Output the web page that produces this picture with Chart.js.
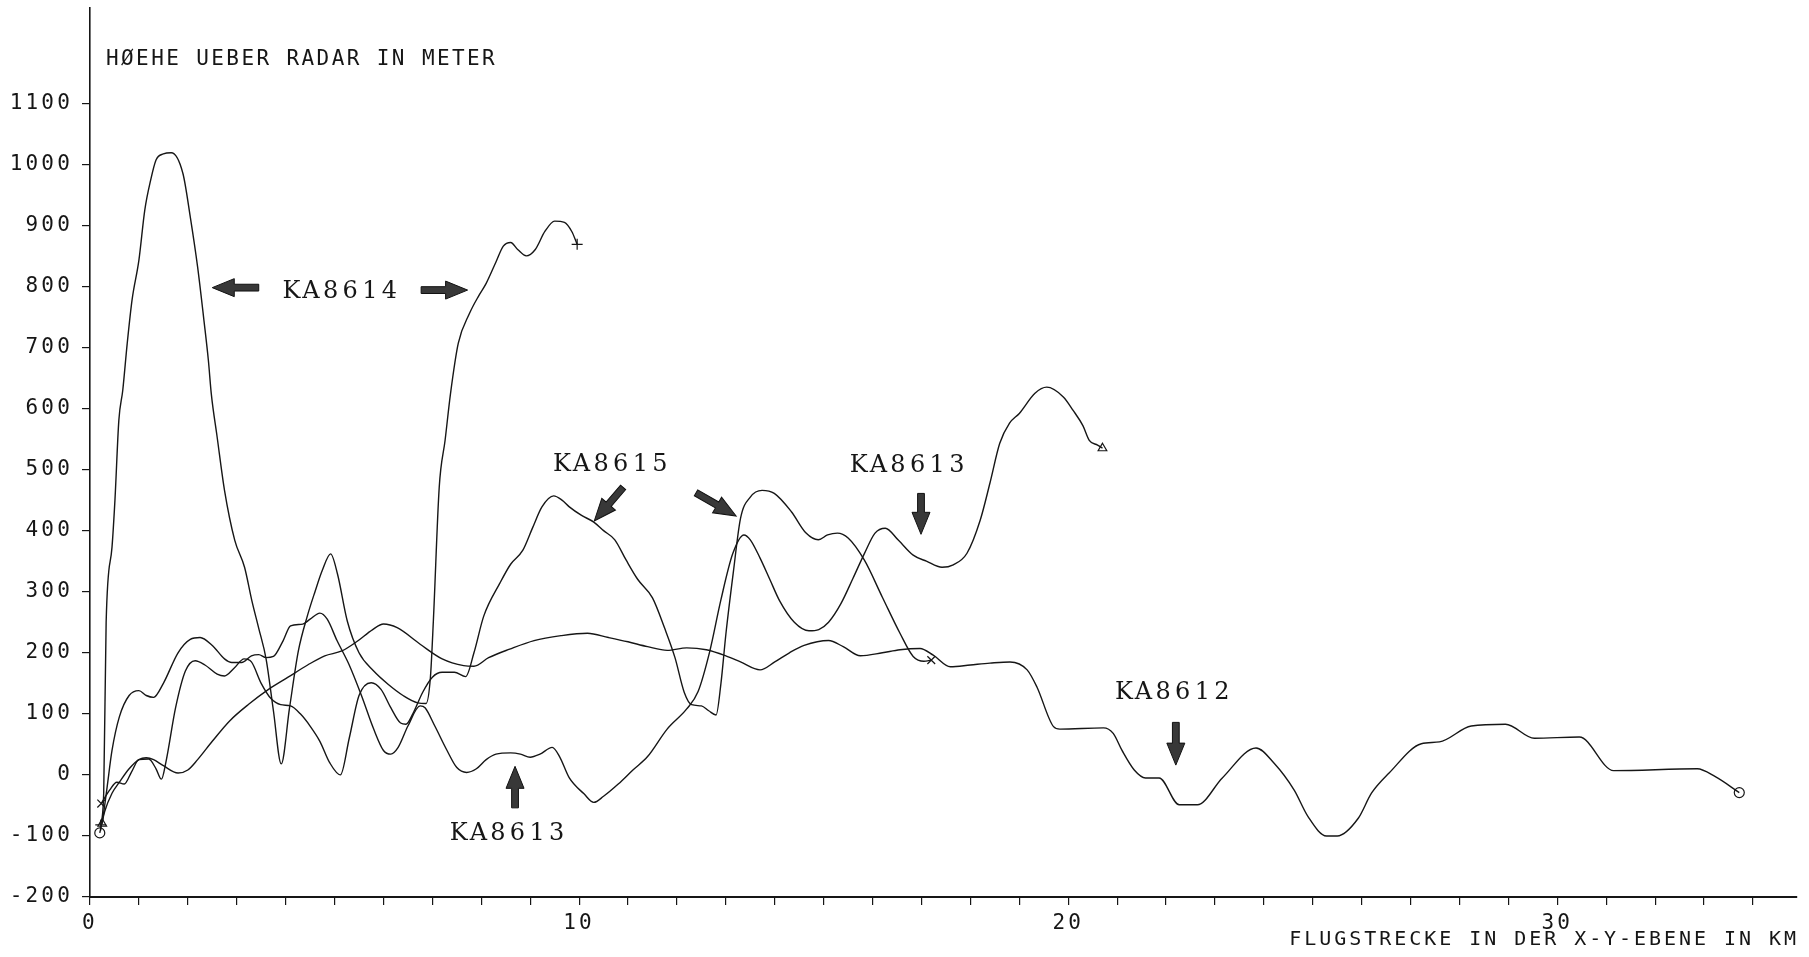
<!DOCTYPE html>
<html>
<head>
<meta charset="utf-8">
<script src="https://cdn.jsdelivr.net/npm/chart.js@4/dist/chart.umd.min.js"></script>
<style>
  html, body { margin: 0; padding: 0; background: #fff; }
  #wrap { width: 1809px; height: 957px; }
</style>
</head>
<body>
<div id="wrap"><canvas id="c" width="1809" height="957"></canvas></div>
<script>
// Flight tracks: distance flown in the x-y plane (km) and height above radar (m)
const ka8612Km  = [0.2, 0.3, 0.45, 0.6, 0.8, 1.0, 1.15, 1.3, 1.5, 1.8, 2.0, 2.2, 2.5, 2.85, 3.25, 3.65, 4.05, 4.45, 4.8, 5.15, 5.45, 5.78, 6.0, 6.28, 6.75, 7.2, 7.64, 7.85, 8.15, 8.58, 9.08, 9.63, 10.17, 10.6, 11.0, 11.4, 11.8, 12.2, 12.6, 13.0, 13.3, 13.7, 14.0, 14.3, 14.6, 15.1, 15.4, 15.75, 16.2, 16.56, 16.97, 17.24, 17.59, 18.0, 18.4, 18.81, 19.16, 19.36, 19.7, 19.83, 20.72, 20.92, 21.1, 21.35, 21.58, 21.86, 22.27, 22.64, 23.15, 23.84, 24.21, 24.62, 24.9, 25.28, 25.5, 25.93, 26.2, 26.56, 27.22, 27.59, 28.24, 28.94, 29.53, 30.45, 31.15, 32.86, 33.23, 33.72];
const ka8612Alt = [-95, -60, -30, -12, 10, 25, 28, 25, 15, 3, 8, 25, 55, 88, 116, 140, 160, 180, 195, 203, 218, 238, 247, 241, 214, 190, 179, 178, 192, 206, 220, 228, 232, 225, 218, 210, 204, 208, 205, 195, 185, 172, 185, 200, 212, 220, 210, 195, 200, 205, 207, 196, 177, 180, 183, 185, 172, 144, 79, 75, 77, 68, 40, 8, -5, -5, -49, -49, -5, 44, 19, -25, -68, -100, -100, -71, -30, 3, 51, 54, 80, 83, 60, 62, 7, 10, -3, -29];

const ka8613Km  = [0.25, 0.35, 0.45, 0.6, 0.8, 1.0, 1.15, 1.3, 1.5, 1.8, 2.05, 2.25, 2.5, 2.75, 2.9, 3.1, 3.3, 3.45, 3.6, 3.75, 3.95, 4.1, 4.35, 4.5, 4.7, 4.85, 5.05, 5.3, 5.55, 5.8, 6.0, 6.15, 6.3, 6.5, 6.75, 6.85, 7.05, 7.3, 7.5, 7.7, 7.9, 8.1, 8.3, 8.6, 8.8, 9.0, 9.2, 9.45, 9.6, 9.8, 10.1, 10.3, 10.5, 10.8, 11.1, 11.4, 11.8, 12.2, 12.43, 12.67, 12.9, 13.14, 13.37, 13.5, 13.7, 13.9, 14.1, 14.4, 14.7, 14.9, 15.1, 15.35, 15.6, 15.83, 16.05, 16.26, 16.52, 16.83, 17.1, 17.42, 17.65, 17.93, 18.2, 18.4, 18.6, 18.8, 19.0, 19.32, 19.56, 19.9, 20.1, 20.3, 20.43, 20.6, 20.7];
const ka8613Alt = [-80, -20, 40, 95, 130, 138, 130, 127, 150, 200, 222, 225, 212, 190, 184, 184, 195, 197, 192, 194, 220, 244, 247, 255, 265, 255, 220, 180, 130, 75, 40, 34, 45, 80, 113, 110, 80, 40, 12, 4, 10, 25, 34, 36, 34, 29, 34, 45, 30, -5, -31, -45, -35, -15, 8, 30, 75, 108, 136, 202, 287, 362, 393, 385, 355, 320, 285, 250, 236, 238, 250, 280, 322, 362, 396, 404, 385, 360, 350, 340, 344, 363, 417, 478, 543, 576, 592, 625, 635, 619, 597, 572, 548, 540, 535];

const ka8614Km  = [0.22, 0.28, 0.33, 0.45, 0.51, 0.59, 0.67, 0.76, 0.86, 1.0, 1.12, 1.24, 1.35, 1.5, 1.66, 1.9, 2.05, 2.2, 2.33, 2.42, 2.48, 2.6, 2.75, 2.96, 3.16, 3.31, 3.45, 3.6, 3.75, 3.91, 4.08, 4.26, 4.45, 4.6, 4.75, 4.92, 5.06, 5.26, 5.5, 5.8, 6.1, 6.4, 6.7, 6.87, 6.96, 7.02, 7.14, 7.26, 7.37, 7.53, 7.76, 7.95, 8.1, 8.3, 8.45, 8.6, 8.75, 8.92, 9.1, 9.3, 9.5, 9.7, 9.85, 9.96];
const ka8614Alt = [-82, -30, 250, 373, 450, 581, 630, 706, 778, 843, 925, 974, 1007, 1017, 1019, 985, 914, 832, 744, 679, 624, 553, 466, 384, 340, 285, 240, 190, 105, 18, 110, 203, 262, 300, 335, 362, 329, 252, 200, 170, 148, 130, 118, 117, 160, 252, 471, 548, 624, 707, 756, 785, 805, 840, 866, 872, 860, 850, 860, 890, 907, 905, 890, 869];

const ka8615Km  = [0.23, 0.4, 0.55, 0.7, 0.85, 1.0, 1.2, 1.35, 1.46, 1.55, 1.75, 1.95, 2.15, 2.35, 2.6, 2.75, 2.95, 3.15, 3.3, 3.5, 3.7, 3.9, 4.1, 4.3, 4.5, 4.7, 4.9, 5.12, 5.3, 5.5, 5.75, 5.95, 6.15, 6.35, 6.46, 6.6, 6.8, 7.0, 7.2, 7.45, 7.68, 7.85, 8.05, 8.38, 8.6, 8.85, 9.05, 9.24, 9.48, 9.65, 9.8, 10.05, 10.3, 10.5, 10.73, 10.96, 11.2, 11.5, 11.75, 11.96, 12.15, 12.3, 12.5, 12.65, 12.8, 12.9, 13.0, 13.15, 13.3, 13.5, 13.74, 13.99, 14.34, 14.64, 14.89, 15.08, 15.28, 15.5, 15.83, 16.2, 16.56, 16.83, 17.05, 17.2];
const ka8615Alt = [-47, -25, -12, -15, 5, 25, 26, 10, -7, 20, 110, 170, 187, 180, 165, 162, 175, 190, 185, 150, 125, 115, 113, 100, 80, 55, 20, 0, 60, 130, 151, 140, 110, 85, 83, 100, 135, 160, 168, 168, 161, 200, 260, 314, 345, 368, 405, 439, 457, 450, 439, 425, 414, 400, 385, 352, 320, 290, 240, 192, 135, 115, 113, 105, 98, 150, 230, 330, 420, 455, 466, 461, 431, 396, 385, 393, 396, 388, 352, 291, 232, 194, 186, 188];

// Axis ticks
const yTickValues = [-200, -100, 0, 100, 200, 300, 400, 500, 600, 700, 800, 900, 1000, 1100];
const xTickKm = [0, 1, 2, 3, 4, 5, 6, 7, 8, 9, 10, 11, 12, 13, 14, 15, 16, 17, 18, 19, 20, 21, 22, 23, 24, 25, 26, 27, 28, 29, 30, 31, 32, 33, 34];
const xLabelKm = [0, 10, 20, 30];

// Track labels and their pointer arrows (data coordinates)
const trackLabels = ['KA8614', 'KA8615', 'KA8613', 'KA8613', 'KA8612'];
const trackLabelKm = [5.12, 10.65, 16.72, 8.54, 22.14];
const trackLabelAlt = [795, 513, 510, -92, 139];
const arrowFromKm  = [3.45, 6.77, 10.9, 12.39, 16.99, 8.69, 22.2];
const arrowFromAlt = [798, 794, 471, 462, 461, -54, 86];
const arrowToKm    = [2.5, 7.72, 10.31, 13.21, 16.99, 8.69, 22.2];
const arrowToAlt   = [798, 794, 416, 424, 394, 14, 16];

const INK = '#161616';
const PLOT_FONT = '"DejaVu Sans Mono", monospace';

function pairs(xs, ys) { return xs.map((x, i) => ({ x: x, y: ys[i] })); }
function endsOnly(r) {
  return (ctx) => (ctx.dataIndex === 0 || ctx.dataIndex === ctx.dataset.data.length - 1) ? r : 0;
}
function track(label, xs, ys, style, r) {
  return {
    label: label,
    data: pairs(xs, ys),
    borderColor: INK,
    borderWidth: 1.4,
    cubicInterpolationMode: 'monotone',
    fill: false,
    pointStyle: style,
    pointRadius: endsOnly(r),
    pointHoverRadius: 0,
    pointBorderColor: INK,
    pointBorderWidth: 1.2,
    pointBackgroundColor: 'rgba(0,0,0,0)'
  };
}

function spacedText(ctx, text, x, y, spacing) {
  ctx.letterSpacing = spacing + 'px';
  ctx.fillText(text, x, y);
}

function drawArrow(ctx, x1, y1, x2, y2) {
  const ang = Math.atan2(y2 - y1, x2 - x1);
  const len = Math.hypot(x2 - x1, y2 - y1);
  const headLen = 22, headHalf = 9, shaftHalf = 3.4;
  ctx.save();
  ctx.translate(x1, y1);
  ctx.rotate(ang);
  ctx.beginPath();
  ctx.moveTo(0, -shaftHalf);
  ctx.lineTo(len - headLen, -shaftHalf);
  ctx.lineTo(len - headLen, -headHalf);
  ctx.lineTo(len, 0);
  ctx.lineTo(len - headLen, headHalf);
  ctx.lineTo(len - headLen, shaftHalf);
  ctx.lineTo(0, shaftHalf);
  ctx.closePath();
  ctx.fillStyle = '#383838';
  ctx.fill();
  ctx.lineWidth = 1;
  ctx.strokeStyle = '#111';
  ctx.stroke();
  ctx.restore();
}

const plotterText = {
  id: 'plotterText',
  beforeDraw(chart) {
    chart.ctx.letterSpacing = '3.2px';
  },
  afterDraw(chart) {
    const ctx = chart.ctx;
    const xs = chart.scales.x, ys = chart.scales.y;
    ctx.save();
    ctx.fillStyle = INK;
    ctx.textBaseline = 'alphabetic';

    // axis captions
    ctx.font = '21px ' + PLOT_FONT;
    ctx.textAlign = 'left';
    spacedText(ctx, 'HØEHE UEBER RADAR IN METER', 106, 65, 2.4);
    ctx.font = '20px ' + PLOT_FONT;
    ctx.textAlign = 'right';
    spacedText(ctx, 'FLUGSTRECKE IN DER X-Y-EBENE IN KM', 1799, 945, 2.95);

    // typed track labels, fixed character cells
    ctx.letterSpacing = '0px';
    ctx.font = '24px "DejaVu Serif", serif';
    ctx.textAlign = 'center';
    const cell = 19.6;
    trackLabels.forEach((t, i) => {
      const cx = xs.getPixelForValue(trackLabelKm[i]);
      const cy = ys.getPixelForValue(trackLabelAlt[i]) + 9;
      const x0 = cx - (t.length / 2) * cell + cell / 2;
      for (let k = 0; k < t.length; k++) {
        ctx.fillText(t[k], x0 + k * cell, cy);
      }
    });

    arrowFromKm.forEach((km, i) => {
      drawArrow(ctx,
        xs.getPixelForValue(km), ys.getPixelForValue(arrowFromAlt[i]),
        xs.getPixelForValue(arrowToKm[i]), ys.getPixelForValue(arrowToAlt[i]));
    });
    ctx.restore();
    ctx.letterSpacing = '0px';
  }
};

new Chart(document.getElementById('c'), {
  type: 'line',
  data: {
    datasets: [
      track('KA8612', ka8612Km, ka8612Alt, 'circle', 5),
      track('KA8613', ka8613Km, ka8613Alt, 'triangle', 5),
      track('KA8614', ka8614Km, ka8614Alt, 'cross', 5.5),
      track('KA8615', ka8615Km, ka8615Alt, 'crossRot', 5.5)
    ]
  },
  options: {
    responsive: false,
    devicePixelRatio: 1,
    animation: false,
    events: [],
    layout: { padding: { top: 8, right: 12, left: 0, bottom: 0 } },
    plugins: { legend: { display: false }, tooltip: { enabled: false } },
    scales: {
      x: {
        type: 'linear',
        min: 0,
        max: 34.9,
        afterBuildTicks: (s) => { s.ticks = xTickKm.map(v => ({ value: v })); },
        afterFit: (s) => { s.height = 60; s.paddingLeft = 0; s.paddingRight = 0; },
        ticks: {
          autoSkip: false,
          maxRotation: 0,
          includeBounds: false,
          padding: 6,
          color: INK,
          font: { family: PLOT_FONT, size: 21 },
          callback: (v) => xLabelKm.includes(v) ? String(v) : ''
        },
        grid: { drawOnChartArea: false, drawTicks: true, tickLength: 8, color: INK, lineWidth: 1.2 },
        border: { display: true, color: INK, width: 2 }
      },
      y: {
        type: 'linear',
        min: -200,
        max: 1256,
        afterBuildTicks: (s) => { s.ticks = yTickValues.map(v => ({ value: v })); },
        afterFit: (s) => { s.width = 90; s.paddingTop = 0; s.paddingBottom = 0; },
        ticks: {
          includeBounds: false,
          padding: 9,
          color: INK,
          font: { family: PLOT_FONT, size: 21 },
          callback: (v) => String(v)
        },
        grid: { drawOnChartArea: false, drawTicks: true, tickLength: 8, color: INK, lineWidth: 1.2 },
        border: { display: true, color: INK, width: 1.6 }
      }
    }
  },
  plugins: [plotterText]
});
</script>
</body>
</html>
